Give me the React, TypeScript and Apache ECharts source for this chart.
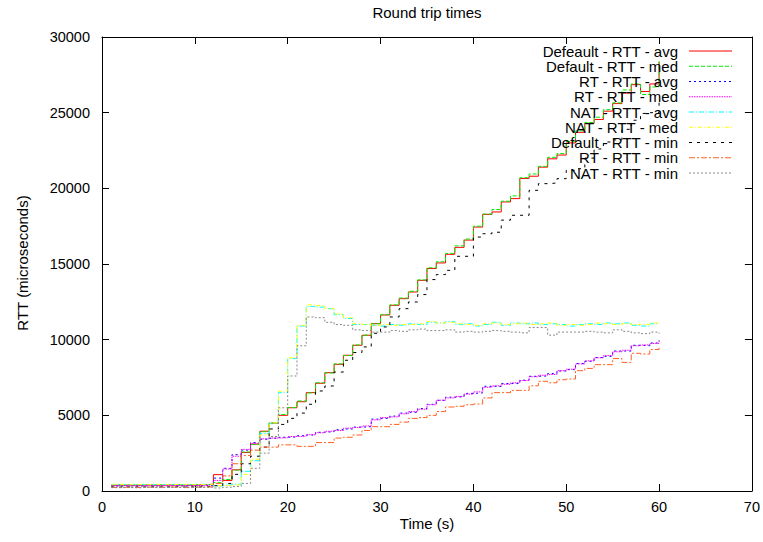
import React, { useEffect, useRef } from 'react';
import * as echarts from 'echarts';

const times = [1,2,3,4,5,6,7,8,9,10,11,12,13,14,15,16,17,18,19,20,21,22,23,24,25,26,27,28,29,30,31,32,33,34,35,36,37,38,39,40,41,42,43,44,45,46,47,48,49,50,51,52,53,54,55,56,57,58,59,60];

const seriesNames = [
  'Defeault - RTT - avg',
  'Default - RTT - med',
  'RT - RTT - avg',
  'RT - RTT - med',
  'NAT - RTT - avg',
  'NAT - RTT - med',
  'Default - RTT - min',
  'RT - RTT - min',
  'NAT - RTT - min',
];

const defAvg = [380,390,370,400,380,390,400,380,390,410,450, 1080,700,1400,2550,3100,3950,4480,5000,5500, 5900,6500,7120,7820,8370,8970,9630,10290,11060,11630, 12270,12710,13150,13920,14700,15070,15640,16100,16580,17440, 18280,18440,19100,19320,20650,20800,21400,21950,22200,23000, 23700,24300,24550,25100,25600,26300,26850,26400,26900,28350];
const defMed = [400,410,390,420,400,410,420,400,410,420,430, 550,760,1380,2580,3080,3920,4500,5050,5520, 5950,6480,7150,7800,8400,8950,9650,10300,11050,11650, 12300,12750,13200,13950,14750,15150,15700,16200,16650,17500, 18300,18600,19150,19500,20700,20950,21450,22050,22300,23100, 23800,24350,24700,25200,25650,26500,26900,26200,26700,28400];
const rtAvg = [330,340,320,350,330,340,350,330,340,350,380, 850,1500,2400,2700,3200,3420,3480,3550,3570, 3650,3700,3880,3920,4050,4100,4220,4250,4750,4800, 4950,5150,5200,5450,5730,5990,6200,6230,6450,6480, 6920,6900,7100,7100,7320,7580,7600,7760,7930,8020, 8420,8570,8820,8900,9250,9250,9630,9600,9780,9950];
const rtMed = [350,360,340,370,350,360,370,350,360,370,400, 700,1450,2300,2750,3150,3450,3500,3520,3600, 3620,3720,3850,3950,4000,4150,4200,4300,4700,4850, 4900,5100,5250,5400,5700,6000,6150,6250,6400,6550, 6850,6950,7050,7150,7300,7550,7650,7700,7950,8050, 8400,8600,8800,8950,9200,9300,9600,9650,9750,9900];
const natAvg = [420,430,410,440,420,430,440,420,430,440,420, 330,400,450,1300,2000,3800,4450,6500,8750, 10900,12200,12150,12050,11650,11400,11000,11000,10950,10900, 11000,10950,11050,11000,11150,11100,11200,11000,11050,10900, 11000,11150,10950,11100,11050,11100,11000,11050,11000,10900, 11000,11050,11000,11100,11050,11100,10950,10900,11050,11050];
const natMed = [440,420,430,420,440,420,430,440,420,430,440, 350,380,420,1100,2100,3700,4500,6600,8800, 10950,12300,12250,12050,11700,11450,11050,11000,10950,11000, 10950,11000,11000,11050,11200,11100,11150,11050,11000,10950, 11050,11100,11000,11050,11100,11000,11050,11100,10950,11000, 10950,11000,11100,11050,11000,11050,11000,11000,11100,11150];
const defMin = [260,270,250,280,260,270,280,260,270,280,300, 350,500,1100,1800,2300,2900,4100,4400,4800, 5150,5730,6610,6940,7860,8640,9150,9520,10420,10840, 11500,12050,12490,12980,13970,14300,14580,15510,15510,16780, 17000,17100,17900,18220,18220,19870,20310,20350,20640,21190, 21300,22000,22600,23060,23200,23900,24500,24950,25000,25900];
const rtMin = [240,250,230,260,240,250,260,240,250,260,280, 500,1000,1800,2350,2700,2900,2900,3050,3050, 2950,2950,3200,3200,3500,3550,3700,4000,4250,4250, 4400,4550,4800,4850,5000,5250,5550,5600,5700,5750, 6150,6500,6500,6650,6650,6950,7250,7150,7350,7400, 7950,8100,8350,8350,8750,8500,9100,9050,9350,9500];
const natMin = [220,230,210,240,220,230,240,220,230,240,250, 200,250,300,500,1500,2500,3600,5500,7600, 9600,11500,11450,11150,11000,10950,10650,10600,10500,10500, 10600,10550,10650,10700,10600,10600,10650,10500,10550,10500, 10550,10600,10550,10500,10450,10800,10800,10300,10500,10500, 10500,10550,10500,10450,10650,10550,10450,10400,10500,10400];

const seriesValues = [defAvg, defMed, rtAvg, rtMed, natAvg, natMed, defMin, rtMin, natMin];

const FONT = 'Liberation Sans, Arial, sans-serif';

const styles: { color: string; type: any }[] = [
  { color: '#ff0000', type: 'solid' },
  { color: '#00ee00', type: [4, 2] },
  { color: '#0000ff', type: [2, 3] },
  { color: '#ff00ff', type: [1.5, 1] },
  { color: '#00ffff', type: [5, 2, 1, 2] },
  { color: '#ffff00', type: [4, 2, 1, 2] },
  { color: '#000000', type: [3, 5] },
  { color: '#ff6020', type: [6, 2, 2, 2] },
  { color: '#888888', type: [2, 2] },
];

const GRID = { left: 102, top: 37, right: 11, bottom: 51 };

export default function App() {
  const ref = useRef<HTMLDivElement>(null);
  useEffect(() => {
    const chart = echarts.init(ref.current!, null, { renderer: 'svg' });
    const axisCommon = {
      type: 'value' as const,
      axisLine: { show: true, onZero: false, lineStyle: { color: '#000', width: 1 } },
      axisTick: { show: true, inside: true, length: 7, lineStyle: { color: '#000', width: 1 } },
      splitLine: { show: false },
    };
    const legendTop = 51;
    const rowGap = 15.25;
    const graphic: any[] = [
      {
        type: 'text', x: 427, y: 12,
        style: { text: 'Round trip times', fontFamily: FONT, fontSize: 15, fill: '#000', textAlign: 'center', textVerticalAlign: 'middle' },
      },
      {
        type: 'text', x: 427, y: 523,
        style: { text: 'Time (s)', fontFamily: FONT, fontSize: 15, fill: '#000', textAlign: 'center', textVerticalAlign: 'middle' },
      },
      {
        type: 'text', x: 22, y: 263, rotation: Math.PI / 2,
        style: { text: 'RTT (microseconds)', fontFamily: FONT, fontSize: 15, fill: '#000', textAlign: 'center', textVerticalAlign: 'middle' },
      },
    ];
    seriesNames.forEach((name, i) => {
      const y = legendTop + i * rowGap;
      graphic.push({
        type: 'text', x: 678, y, z: 100,
        style: { text: name, fontFamily: FONT, fontSize: 15, fill: '#000', textAlign: 'right', textVerticalAlign: 'middle' },
      });
      graphic.push({
        type: 'line', z: 100,
        shape: { x1: 689, y1: y, x2: 732, y2: y },
        style: { stroke: styles[i].color, lineWidth: 1, lineDash: styles[i].type === 'solid' ? null : styles[i].type },
      });
    });

    chart.setOption({
      animation: false,
      backgroundColor: '#fff',
      grid: GRID,
      xAxis: [
        {
          ...axisCommon, min: 0, max: 70, interval: 10, position: 'bottom',
          axisLabel: { color: '#000', fontFamily: FONT, fontSize: 14.5, margin: 8, formatter: (v: number) => String(v) },
        },
        {
          ...axisCommon, min: 0, max: 70, interval: 10, position: 'top',
          axisLabel: { show: false },
        },
      ],
      yAxis: [
        {
          ...axisCommon, min: 0, max: 30000, interval: 5000, position: 'left',
          axisLabel: { color: '#000', fontFamily: FONT, fontSize: 14.5, margin: 12, formatter: (v: number) => String(v) },
        },
        {
          ...axisCommon, min: 0, max: 30000, interval: 5000, position: 'right',
          axisLabel: { show: false },
        },
      ],
      graphic,
      series: seriesNames.map((name, i) => ({
        name,
        type: 'line',
        step: 'end',
        xAxisIndex: 0,
        yAxisIndex: 0,
        showSymbol: false,
        symbol: 'none',
        silent: true,
        lineStyle: { color: styles[i].color, width: 1, type: styles[i].type },
        data: times.map((t, k) => [t, seriesValues[i][k]]),
      })),
    });
    return () => chart.dispose();
  }, []);
  return <div ref={ref} style={{ position: 'absolute', left: 0, top: 0, width: 763, height: 542, background: '#fff' }} />;
}
